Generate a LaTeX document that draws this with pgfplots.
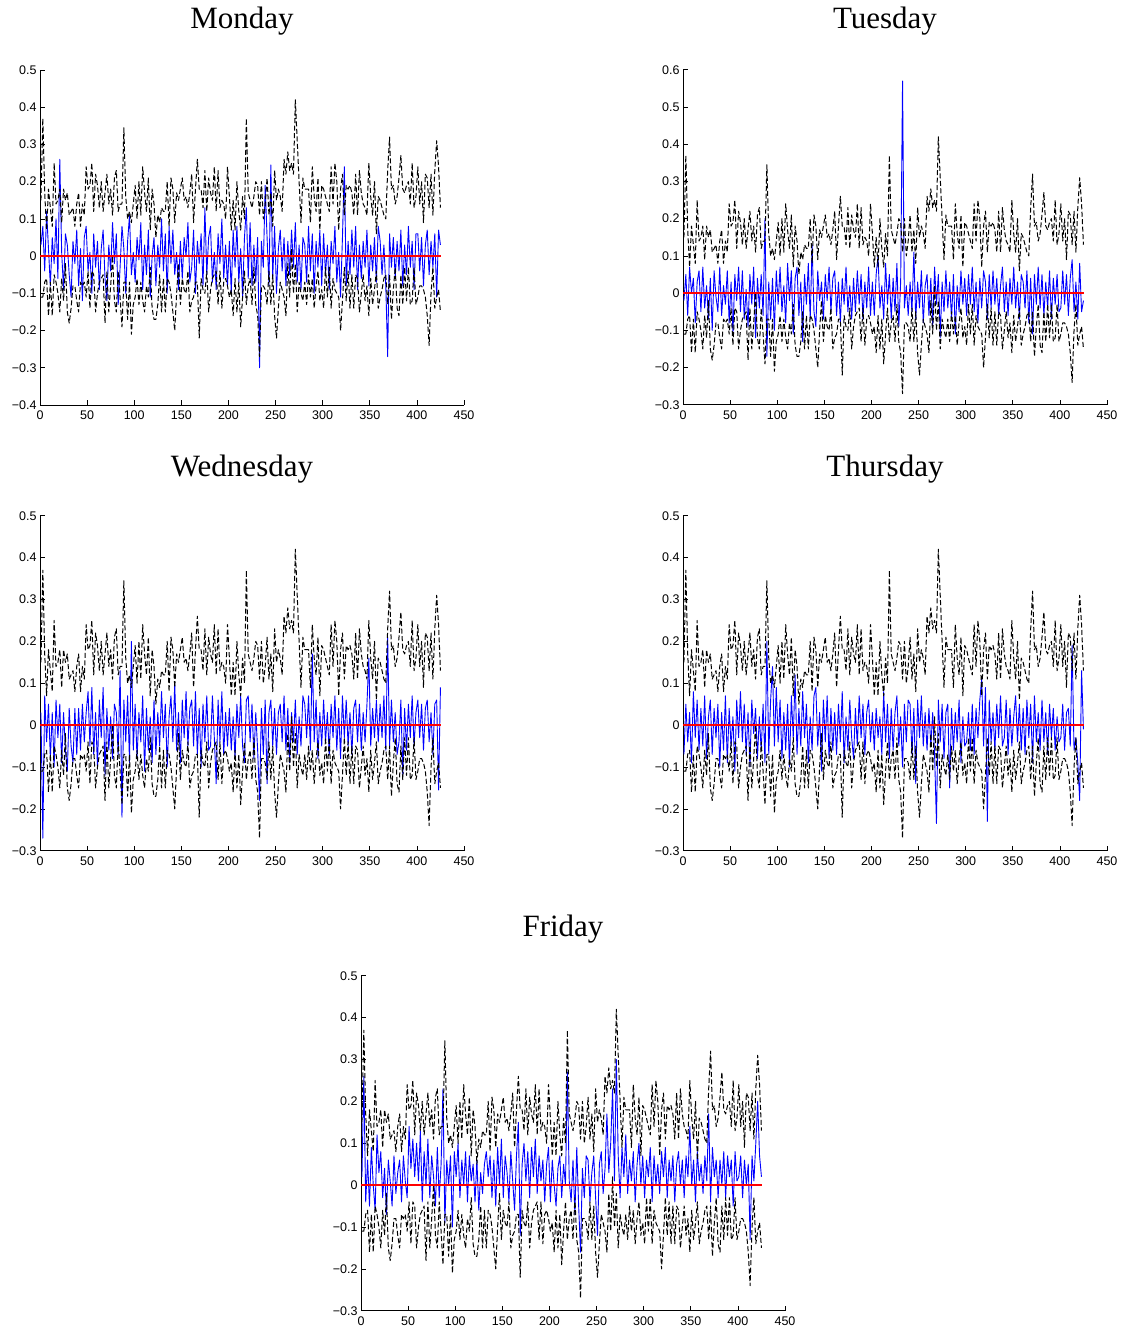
\documentclass[border=0pt]{standalone}
\usepackage{pgfplots}
\pgfplotsset{compat=1.18}
\usepackage{pgfplotstable}
\usepackage{fontspec}
\setmainfont{Liberation Serif}
\newfontfamily\tickfont{Liberation Sans}
\definecolor{pureRed}{rgb}{1,0,0}
\definecolor{pureBlue}{rgb}{0,0,1}

\pgfplotstableread{
x up lo mo tu we th fr
1 0.15 -0.11 0.03 -0.02 0.03 -0.07 0.02
3 0.37 -0.11 0.08 0.05 -0.27 0.05 0.26
5 0.17 -0.07 -0.04 -0.06 0.07 -0.04 -0.04
7 0.07 -0.06 0.12 0.07 -0.04 0.03 0.06
9 0.18 -0.16 0.02 0.00 0.05 -0.09 -0.05
11 0.13 -0.07 -0.08 0.04 -0.08 0.08 0.09
13 0.08 -0.16 0.05 -0.08 0.03 -0.03 0.00
15 0.25 -0.05 -0.02 0.03 -0.10 0.06 -0.06
17 0.14 -0.07 0.10 0.06 0.06 -0.06 0.12
19 0.15 -0.10 -0.06 -0.05 -0.03 0.04 0.03
21 0.18 -0.15 0.26 0.07 0.05 -0.05 0.08
23 0.09 -0.06 0.01 -0.04 -0.09 0.07 -0.03
25 0.18 -0.12 -0.09 0.02 0.03 -0.08 0.04
27 0.15 -0.02 0.06 -0.07 -0.06 0.02 -0.07
29 0.17 -0.15 0.03 0.04 -0.11 0.06 0.06
31 0.11 -0.18 -0.05 -0.10 0.04 -0.07 0.01
33 0.12 -0.14 -0.11 0.06 -0.05 0.04 -0.05
35 0.13 -0.08 0.04 -0.01 -0.09 -0.03 0.07
37 0.08 -0.08 -0.02 -0.05 0.04 0.05 -0.02
39 0.14 -0.12 0.07 0.07 -0.07 -0.10 0.03
41 0.17 -0.15 -0.08 -0.06 0.04 0.03 0.06
43 0.08 -0.07 0.02 0.02 -0.06 -0.06 -0.04
45 0.14 -0.08 -0.12 -0.03 0.05 0.07 0.07
47 0.11 -0.07 0.05 0.06 -0.04 -0.09 0.01
49 0.24 -0.11 0.08 -0.08 0.03 0.04 -0.03
51 0.18 -0.04 -0.04 0.03 0.08 -0.05 0.14
53 0.19 -0.14 0.01 -0.11 -0.05 0.02 0.04
55 0.25 -0.04 -0.10 0.05 0.09 -0.11 0.11
57 0.12 -0.05 0.06 -0.02 -0.07 0.06 0.02
59 0.22 -0.15 -0.03 0.07 0.03 -0.03 0.10
61 0.19 -0.10 0.04 -0.05 -0.10 0.08 0.01
63 0.13 -0.07 -0.09 0.06 0.06 -0.04 0.13
65 0.20 -0.06 0.02 -0.07 -0.03 0.05 -0.04
67 0.12 -0.05 0.07 0.01 0.09 -0.07 0.08
69 0.17 -0.18 -0.06 -0.09 -0.12 0.03 0.00
71 0.22 -0.04 -0.12 0.05 0.04 -0.10 0.11
73 0.14 -0.15 0.03 -0.03 -0.06 0.06 -0.03
75 0.18 -0.08 -0.04 0.07 0.02 -0.02 0.07
77 0.11 0.00 0.09 -0.12 -0.08 0.04 0.02
79 0.21 -0.12 -0.02 0.04 0.05 -0.08 -0.05
81 0.23 -0.15 0.06 -0.04 0.03 0.02 0.09
83 0.12 -0.04 -0.13 0.05 -0.07 -0.06 -0.03
85 0.14 -0.11 -0.03 -0.06 0.13 0.05 0.05
87 0.14 -0.19 0.08 0.20 -0.22 -0.09 0.23
89 0.345 -0.07 0.02 -0.17 0.06 0.20 -0.09
91 0.16 -0.07 -0.10 0.03 -0.04 -0.07 0.06
93 0.10 -0.17 0.04 -0.07 0.07 0.06 0.00
95 0.12 -0.07 0.11 0.04 -0.09 0.14 0.07
97 0.09 -0.21 -0.05 -0.10 0.20 -0.05 -0.10
99 0.14 -0.13 0.01 0.06 -0.06 0.09 0.08
101 0.19 -0.11 -0.07 -0.03 0.05 -0.04 0.02
103 0.10 -0.06 0.05 0.07 -0.08 0.06 0.10
105 0.20 -0.13 -0.01 -0.05 0.03 -0.08 -0.03
107 0.11 -0.07 0.09 0.02 -0.04 0.03 0.06
109 0.24 -0.12 -0.09 -0.08 0.07 -0.06 0.00
111 0.17 -0.15 0.03 0.08 -0.11 0.05 0.08
113 0.12 -0.08 -0.05 -0.02 0.04 -0.10 -0.04
115 0.21 -0.11 0.07 0.06 -0.06 0.07 0.07
117 0.07 -0.03 -0.11 -0.11 0.02 -0.03 0.01
119 0.18 -0.14 0.00 0.04 -0.09 0.12 0.05
121 0.14 -0.17 0.05 0.07 0.06 -0.07 -0.04
123 0.05 -0.17 -0.08 -0.06 -0.07 0.04 0.06
125 0.11 -0.13 0.03 0.03 0.03 -0.05 -0.06
127 0.09 -0.05 -0.03 -0.13 -0.05 0.08 0.03
129 0.13 -0.15 0.10 0.05 0.08 -0.03 -0.02
131 0.12 -0.06 -0.04 -0.03 -0.03 0.05 0.05
133 0.12 -0.15 0.06 0.08 0.05 -0.09 0.08
135 0.20 -0.06 -0.10 -0.07 -0.10 0.02 0.02
137 0.08 -0.07 0.08 0.13 0.02 -0.06 0.07
139 0.21 -0.10 -0.02 -0.05 0.07 0.07 -0.03
141 0.18 -0.15 0.07 -0.09 -0.04 0.09 0.06
143 0.09 -0.20 -0.05 0.06 0.10 -0.05 -0.05
145 0.17 -0.10 0.01 -0.02 -0.06 0.03 0.09
147 0.15 -0.02 -0.09 0.03 0.03 -0.11 0.00
149 0.18 -0.13 0.04 -0.07 -0.09 0.06 0.11
151 0.21 -0.06 -0.06 0.05 0.06 -0.04 -0.03
153 0.15 -0.09 0.05 -0.02 -0.03 0.07 0.07
155 0.16 -0.10 0.00 0.07 0.08 -0.08 0.03
157 0.13 -0.04 0.09 -0.05 -0.05 0.04 -0.04
159 0.17 -0.15 -0.07 0.04 0.04 -0.06 0.08
161 0.22 -0.12 -0.03 0.06 0.06 0.03 0.01
163 0.09 -0.11 0.07 -0.06 -0.05 -0.07 -0.06
165 0.18 -0.07 -0.10 0.03 0.08 0.05 0.07
167 0.26 -0.07 0.04 -0.08 -0.07 -0.04 0.15
169 0.18 -0.22 -0.02 0.04 0.04 0.08 -0.12
171 0.18 -0.06 0.06 -0.03 -0.10 -0.09 0.05
173 0.13 -0.09 -0.08 0.07 0.05 0.02 0.10
175 0.23 -0.10 0.13 -0.05 -0.04 -0.06 0.01
177 0.12 -0.04 -0.05 0.02 0.07 0.06 0.08
179 0.21 -0.15 0.05 -0.07 -0.06 -0.03 -0.03
181 0.17 -0.09 0.08 0.04 -0.05 -0.08 0.09
183 0.15 -0.06 -0.07 -0.05 0.07 0.04 0.02
185 0.24 -0.05 0.01 0.06 -0.03 -0.05 0.11
187 0.12 -0.04 -0.09 -0.03 -0.14 0.07 -0.02
189 0.23 -0.13 0.06 0.05 0.06 -0.03 0.07
191 0.13 -0.04 -0.02 -0.07 -0.04 0.05 0.01
193 0.15 -0.14 0.10 0.03 0.08 -0.07 0.06
195 0.14 -0.07 -0.06 -0.04 -0.07 0.03 -0.04
197 0.10 -0.06 0.03 0.07 0.03 0.06 0.05
199 0.24 -0.08 -0.08 -0.06 -0.05 -0.04 0.09
201 0.16 -0.11 0.04 0.03 0.04 0.03 -0.04
203 0.07 -0.09 -0.10 -0.06 -0.06 -0.06 0.06
205 0.15 -0.16 0.07 0.05 0.02 0.04 0.00
207 0.07 -0.06 -0.03 0.10 -0.08 -0.03 -0.05
209 0.20 -0.15 0.08 -0.04 0.05 0.02 0.04
211 0.12 -0.07 -0.07 0.02 -0.03 -0.07 0.07
213 0.07 -0.19 0.02 -0.07 0.07 0.08 -0.03
215 0.16 -0.11 -0.11 0.08 -0.05 -0.04 0.05
217 0.10 -0.04 0.05 -0.03 -0.09 0.05 0.00
219 0.37 -0.13 0.13 0.05 0.06 -0.08 0.27
221 0.17 -0.08 -0.06 -0.07 0.07 0.04 0.01
223 0.15 -0.06 0.09 0.04 -0.04 -0.06 -0.04
225 0.13 -0.13 -0.08 -0.05 0.05 0.03 0.06
227 0.16 -0.03 0.03 0.08 -0.08 0.07 -0.07
229 0.20 -0.13 -0.07 -0.09 0.03 -0.05 0.09
231 0.19 -0.16 0.05 0.03 -0.06 0.02 -0.05
233 0.11 -0.27 -0.30 0.57 -0.18 -0.10 -0.16
235 0.20 -0.08 0.04 -0.04 0.04 0.05 0.04
237 0.10 -0.08 -0.03 0.02 -0.07 -0.04 -0.03
239 0.14 -0.09 0.19 -0.06 0.06 0.06 0.07
241 0.21 -0.13 0.05 0.03 -0.14 0.05 0.06
243 0.11 -0.04 -0.08 -0.05 0.03 -0.07 -0.04
245 0.17 -0.13 0.245 0.11 0.06 0.04 0.03
247 0.08 -0.05 -0.06 -0.07 -0.05 -0.14 0.07
249 0.23 -0.16 0.08 0.03 0.04 0.06 -0.03
251 0.15 -0.22 -0.10 -0.04 -0.07 -0.03 -0.12
253 0.18 -0.14 0.02 0.06 0.03 0.07 0.05
255 0.16 -0.07 0.07 -0.08 0.05 -0.05 0.08
257 0.12 -0.09 -0.04 0.02 -0.04 0.03 -0.02
259 0.26 -0.11 0.05 0.05 0.07 -0.06 0.04
261 0.22 -0.16 -0.08 -0.06 -0.06 0.04 0.17
263 0.28 -0.02 0.04 0.04 0.04 -0.05 0.03
265 0.23 -0.11 -0.05 -0.09 -0.09 0.03 0.10
267 0.25 0.02 0.07 0.07 0.03 -0.07 0.23
269 0.22 -0.10 -0.03 -0.03 -0.04 -0.235 0.01
271 0.42 -0.02 0.09 0.05 0.06 0.06 0.30
273 0.31 -0.15 -0.07 -0.12 -0.07 -0.04 0.07
275 0.20 -0.07 0.03 0.03 0.02 0.05 -0.03
277 0.09 -0.10 -0.09 -0.05 -0.05 -0.08 0.09
279 0.21 -0.12 0.05 0.06 0.07 0.03 0.02
281 0.18 -0.07 0.03 -0.04 0.05 0.05 0.12
283 0.18 -0.13 -0.07 0.03 -0.03 -0.15 -0.02
285 0.18 -0.05 0.08 -0.07 0.07 0.04 0.06
287 0.09 -0.11 -0.04 0.05 -0.06 -0.06 0.01
289 0.24 -0.06 0.06 -0.11 0.17 0.03 0.08
291 0.16 -0.14 -0.10 0.02 -0.04 -0.04 -0.04
293 0.12 -0.08 0.04 -0.05 0.06 0.06 0.05
295 0.21 -0.04 -0.03 0.06 -0.08 -0.09 0.10
297 0.07 -0.12 0.07 -0.03 0.03 0.02 0.00
299 0.19 -0.09 -0.08 0.04 -0.05 -0.05 0.07
301 0.18 -0.14 0.06 -0.06 0.06 -0.04 -0.03
303 0.16 -0.03 -0.05 0.05 -0.04 0.03 0.06
305 0.14 -0.11 0.03 -0.03 0.03 -0.06 0.02
307 0.12 -0.03 -0.09 0.07 -0.07 0.05 0.09
309 0.24 -0.14 0.04 -0.05 0.05 -0.07 -0.04
311 0.14 -0.06 -0.02 0.03 -0.03 0.04 0.07
313 0.25 -0.09 0.08 -0.08 0.07 -0.03 0.00
315 0.20 -0.10 -0.07 0.04 -0.06 0.06 0.05
317 0.07 -0.11 0.01 -0.04 0.04 0.11 -0.02
319 0.18 -0.20 -0.11 0.06 -0.08 -0.05 0.08
321 0.22 -0.12 0.05 0.03 0.07 0.09 0.02
323 0.11 -0.03 0.24 -0.07 -0.03 -0.23 0.09
325 0.19 -0.12 -0.08 0.05 0.06 0.06 -0.03
327 0.18 -0.04 0.04 -0.04 -0.05 -0.04 0.06
329 0.19 -0.14 -0.05 0.06 0.03 0.03 0.01
331 0.17 -0.05 0.07 -0.03 -0.07 -0.06 0.07
333 0.11 -0.14 -0.03 0.04 0.04 0.05 -0.04
335 0.22 -0.05 0.08 -0.06 0.06 -0.03 0.05
337 0.11 -0.06 -0.09 0.02 -0.04 0.07 0.08
339 0.23 -0.15 0.03 0.07 0.05 -0.05 0.00
341 0.17 -0.10 -0.06 -0.05 -0.06 -0.03 0.06
343 0.14 -0.05 0.04 0.03 0.03 0.06 -0.03
345 0.13 -0.12 -0.03 -0.06 -0.04 -0.07 0.07
347 0.11 -0.08 0.07 0.04 0.05 0.04 0.02
349 0.25 -0.16 -0.08 -0.03 0.16 -0.05 0.14
351 0.16 -0.06 0.03 0.07 -0.05 0.02 0.00
353 0.11 -0.13 -0.04 -0.04 0.04 0.07 0.06
355 0.20 -0.09 0.05 0.03 -0.03 -0.04 -0.04
357 0.06 -0.04 -0.07 -0.07 0.06 0.05 0.08
359 0.16 -0.14 0.08 0.05 -0.04 -0.06 0.01
361 0.15 -0.11 0.04 0.03 0.05 0.04 0.05
363 0.13 -0.09 -0.05 -0.04 -0.03 -0.07 -0.02
365 0.11 -0.06 0.03 0.06 0.07 0.06 0.07
367 0.10 -0.05 -0.08 -0.08 -0.06 -0.03 0.01
369 0.23 -0.13 -0.27 0.04 0.21 0.05 0.17
371 0.32 -0.05 0.06 -0.11 -0.05 -0.09 -0.04
373 0.18 -0.17 -0.03 0.05 0.06 0.07 0.09
375 0.19 -0.09 0.05 -0.03 -0.04 -0.04 0.02
377 0.14 -0.03 -0.06 0.07 0.03 0.03 0.06
379 0.16 -0.14 0.04 -0.04 -0.07 -0.06 -0.03
381 0.21 -0.16 -0.04 0.05 -0.04 0.06 0.06
383 0.27 -0.05 0.07 -0.06 0.06 -0.04 0.00
385 0.18 -0.13 -0.08 0.03 -0.12 0.03 0.08
387 0.17 -0.03 0.03 -0.04 0.04 -0.07 -0.03
389 0.19 -0.12 -0.05 0.06 -0.06 0.05 0.07
391 0.20 -0.03 0.08 -0.07 0.05 -0.03 0.02
393 0.14 -0.13 -0.03 0.04 -0.03 0.04 0.06
395 0.25 -0.12 0.04 -0.03 0.07 -0.06 -0.05
397 0.13 -0.03 -0.09 0.05 -0.05 0.02 0.08
399 0.16 -0.13 0.06 -0.05 0.03 -0.04 0.01
401 0.24 -0.11 0.06 -0.04 0.06 -0.03 0.02
403 0.14 -0.08 -0.04 0.06 -0.03 0.05 0.07
405 0.20 -0.08 0.05 -0.03 0.05 -0.06 -0.03
407 0.09 -0.09 -0.08 0.05 -0.06 0.03 0.06
409 0.22 -0.11 0.03 -0.06 0.04 0.04 0.00
411 0.21 -0.16 0.07 0.04 0.06 -0.05 0.05
413 0.13 -0.24 -0.05 0.09 -0.04 0.19 -0.13
415 0.22 -0.10 0.04 -0.05 0.03 -0.06 0.07
417 0.11 -0.03 -0.03 0.03 -0.07 -0.03 0.01
419 0.23 -0.14 0.06 -0.07 0.05 -0.09 0.10
421 0.31 -0.11 -0.11 0.08 0.06 -0.18 0.20
423 0.24 -0.09 0.07 -0.05 -0.155 0.13 0.07
425 0.13 -0.15 0.03 -0.02 0.09 -0.01 0.02
}\data

\pgfplotstableread{
x z
0 0
426 0
}\zeroline

\pgfplotsset{
  day/.style={
    scale only axis, width=424pt, height=335pt,
    xmin=0, xmax=450,
    axis x line=bottom, axis y line=left,
    axis line style={-, line width=0.7pt},
    tick align=inside,
    major tick length=5pt,
    tick style={line width=0.7pt, black},
    xtick={0,50,100,150,200,250,300,350,400,450},
    xticklabels={0,50,100,150,200,250,300,350,400,450},
    ticklabel style={font=\tickfont\fontsize{12.5}{13}\selectfont, text=black},
    xticklabel style={yshift=-2.5pt},
    /pgf/number format/assume math mode=true,
  },
  yA/.style={ymin=-0.3, ymax=0.5,
    ytick={-0.3,-0.2,-0.1,0,0.1,0.2,0.3,0.4,0.5},
    yticklabels={−0.3,−0.2,−0.1,0,0.1,0.2,0.3,0.4,0.5}},
  bl/.style={draw=pureBlue, line width=0.9pt, line join=round},
  bd/.style={draw=black, line width=1pt, dash pattern=on 5pt off 2.5pt, line join=round},
  rl/.style={draw=pureRed, line width=1.5pt, solid},
}

\begin{document}
\begin{tikzpicture}[x=1pt,y=1pt]
\useasboundingbox (0,0) rectangle (1126,-1332);

% Monday
\begin{axis}[day, at={(40pt,-405pt)}, anchor=south west,
  ymin=-0.4, ymax=0.5,
  ytick={-0.4,-0.3,-0.2,-0.1,0,0.1,0.2,0.3,0.4,0.5},
  yticklabels={−0.4,−0.3,−0.2,−0.1,0,0.1,0.2,0.3,0.4,0.5}]
\addplot[bl] table[x=x,y=mo]{\data};
\addplot[bd] table[x=x,y=up]{\data};
\addplot[bd] table[x=x,y=lo]{\data};
\addplot[rl] table[x=x,y=z]{\zeroline};
\end{axis}

% Tuesday
\begin{axis}[day, at={(683pt,-404.78pt)}, anchor=south west,
  ymin=-0.3, ymax=0.6,
  ytick={-0.3,-0.2,-0.1,0,0.1,0.2,0.3,0.4,0.5,0.6},
  yticklabels={−0.3,−0.2,−0.1,0,0.1,0.2,0.3,0.4,0.5,0.6}]
\addplot[bl] table[x=x,y=tu]{\data};
\addplot[bd] table[x=x,y=up]{\data};
\addplot[bd] table[x=x,y=lo]{\data};
\addplot[rl] table[x=x,y=z]{\zeroline};
\end{axis}

% Wednesday
\begin{axis}[day, yA, at={(40pt,-850.74pt)}, anchor=south west]
\addplot[bl] table[x=x,y=we]{\data};
\addplot[bd] table[x=x,y=up]{\data};
\addplot[bd] table[x=x,y=lo]{\data};
\addplot[rl] table[x=x,y=z]{\zeroline};
\end{axis}

% Thursday
\begin{axis}[day, yA, at={(683pt,-850.74pt)}, anchor=south west]
\addplot[bl] table[x=x,y=th]{\data};
\addplot[bd] table[x=x,y=up]{\data};
\addplot[bd] table[x=x,y=lo]{\data};
\addplot[rl] table[x=x,y=z]{\zeroline};
\end{axis}

% Friday
\begin{axis}[day, yA, at={(361pt,-1310.74pt)}, anchor=south west]
\addplot[bl] table[x=x,y=fr]{\data};
\addplot[bd] table[x=x,y=up]{\data};
\addplot[bd] table[x=x,y=lo]{\data};
\addplot[rl] table[x=x,y=z]{\zeroline};
\end{axis}

\begin{scope}[every node/.style={anchor=base, inner sep=0pt, font=\fontsize{31}{31}\selectfont}]
\node at (242,-29) {Monday};
\node at (885,-29) {Tuesday};
\node at (242,-476) {Wednesday};
\node at (885,-476) {Thursday};
\node at (563,-936) {Friday};
\end{scope}
\end{tikzpicture}
\end{document}
